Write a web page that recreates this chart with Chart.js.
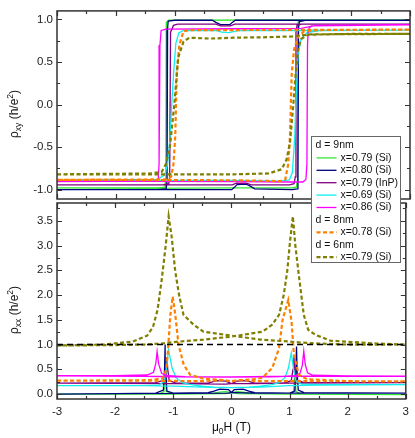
<!DOCTYPE html>
<html>
<head>
<meta charset="utf-8">
<script src="https://cdn.jsdelivr.net/npm/chart.js@4.4.0/dist/chart.umd.min.js"></script>
<style>
  html, body { margin: 0; padding: 0; background: #fff; }
  #wrap { position: relative; width: 415px; height: 438px; }
  #wrap canvas { position: absolute; left: 0; top: 0; }
</style>
</head>
<body>
<div id="wrap">
  <canvas id="chartXY" width="415" height="438"></canvas>
  <canvas id="chartXX" width="415" height="438"></canvas>
</div>
<script>
// samples (legend order)
let groupNames = ['d = 9nm', 'd = 8nm', 'd = 6nm'];
let sampleLabels = ['x=0.79 (Si)', 'x=0.80 (Si)', 'x=0.79 (InP)', 'x=0.69 (Si)', 'x=0.86 (Si)', 'x=0.78 (Si)', 'x=0.79 (Si)'];
let sampleGroup = [0, 0, 0, 0, 0, 1, 2];
let sampleColors = ['#33e633', '#000080', '#800080', '#11eeee', '#ff00ff', '#ff8000', '#808000'];
let sampleDashed = [false, false, false, false, false, true, true];

// rho_xy sweeps, points are [mu0H (T), rho_xy (h/e^2)]
let xyGreenUp = [[-3,-0.98],[-1.5,-0.985],[0,-0.98],[1.0,-0.98],[1.07,-0.97],[1.082,-0.9],[1.09,0.9],[1.1,0.975],[1.18,0.995],[3,0.995]];
let xyGreenDown = [[3,0.995],[0.5,0.995],[-0.5,0.99],[-1.1,0.99],[-1.135,0.97],[-1.143,0.9],[-1.15,-0.9],[-1.16,-0.97],[-1.25,-0.98],[-3,-0.98]];
let xyNavyUp = [[-3,-1.0],[-0.03,-1.0],[0.02,-0.97],[0.06,-0.94],[0.22,-0.935],[0.3,-0.965],[0.36,-0.99],[1.0,-1.0],[1.085,-0.99],[1.095,-0.9],[1.105,0.9],[1.12,0.975],[1.22,0.99],[3,0.99]];
let xyNavyDown = [[3,0.99],[0.03,0.99],[-0.02,0.965],[-0.06,0.94],[-0.22,0.938],[-0.3,0.965],[-0.36,0.99],[-1.0,0.99],[-1.11,0.98],[-1.12,0.9],[-1.13,-0.9],[-1.145,-0.99],[-1.3,-1.0],[-3,-1.0]];
let xyPurpleUp = [[-3,-0.945],[-0.02,-0.945],[0.05,-0.925],[0.22,-0.925],[0.3,-0.945],[0.95,-0.945],[1.03,-0.93],[1.05,-0.85],[1.062,0.85],[1.08,0.93],[1.15,0.945],[3,0.945]];
let xyPurpleDown = [[3,0.945],[0.02,0.945],[-0.05,0.925],[-0.22,0.925],[-0.3,0.945],[-0.95,0.945],[-1.02,0.93],[-1.07,0.85],[-1.085,-0.85],[-1.1,-0.93],[-1.2,-0.945],[-3,-0.945]];
let xyCyanUp = [[-3,-0.89],[0,-0.89],[0.8,-0.9],[0.95,-0.885],[1.0,-0.8],[1.04,-0.4],[1.07,0.2],[1.1,0.6],[1.15,0.77],[1.25,0.845],[1.5,0.87],[3,0.875]];
let xyCyanDown = [[3,0.875],[0.1,0.87],[-0.08,0.845],[-0.2,0.85],[-0.3,0.87],[-0.85,0.87],[-0.93,0.84],[-0.98,0.72],[-1.02,0.35],[-1.05,0.0],[-1.08,-0.4],[-1.12,-0.7],[-1.17,-0.83],[-1.3,-0.88],[-3,-0.89]];
let xyMagentaUp = [[-3,-0.9],[0,-0.905],[1.0,-0.91],[1.18,-0.91],[1.23,-0.88],[1.248,-0.7],[1.258,0.7],[1.27,0.88],[1.32,0.925],[3,0.935]];
let xyMagentaDown = [[3,0.935],[1.4,0.93],[1.15,0.895],[0,0.89],[-1.15,0.885],[-1.23,0.87],[-1.25,0.7],[-1.265,-0.7],[-1.28,-0.88],[-1.35,-0.9],[-3,-0.905]];
let xyOrangeUp = [[-3,-0.885],[0,-0.89],[0.8,-0.9],[0.88,-0.88],[0.93,-0.7],[0.96,-0.37],[0.99,0.37],[1.03,0.65],[1.1,0.8],[1.2,0.86],[1.4,0.875],[3,0.88]];
let xyOrangeDown = [[3,0.88],[0,0.875],[-0.75,0.875],[-0.85,0.86],[-0.92,0.7],[-0.965,0.37],[-0.99,-0.37],[-1.02,-0.7],[-1.06,-0.85],[-1.15,-0.88],[-3,-0.885]];
let xyOliveUp = [[-3,-0.82],[-1,-0.82],[0,-0.82],[0.6,-0.81],[0.82,-0.76],[0.9,-0.65],[0.96,-0.45],[1.017,0.0],[1.057,0.37],[1.1,0.65],[1.15,0.77],[1.27,0.82],[2,0.83],[3,0.83]];
let xyOliveDown = [[3,0.83],[1.3,0.825],[1.0,0.8],[0.5,0.79],[0,0.785],[-0.4,0.775],[-0.75,0.785],[-0.85,0.74],[-0.94,0.55],[-1.006,0.0],[-1.08,-0.49],[-1.15,-0.7],[-1.22,-0.79],[-1.4,-0.81],[-3,-0.82]];

// rho_xx sweeps, points are [mu0H (T), rho_xx (h/e^2)]
let xxGreenUp = [[-3,0.0],[-1,0.0],[-0.1,0.01],[0.0,0.03],[0.1,0.05],[0.2,0.04],[0.35,0.01],[1.0,0.0],[1.07,0.05],[1.09,0.45],[1.11,0.05],[1.2,0.0],[3,-0.01]];
let xxGreenDown = [[3,-0.01],[1,0.0],[0.1,0.01],[0,0.03],[-0.1,0.05],[-0.2,0.04],[-0.35,0.01],[-1.0,0.0],[-1.12,0.05],[-1.14,0.45],[-1.16,0.05],[-1.25,0.0],[-3,0.0]];
let xxNavyUp = [[-3,0.0],[-2,0.01],[-1,0.015],[-0.05,0.02],[0.0,0.03],[0.05,0.09],[0.2,0.1],[0.3,0.06],[0.4,0.03],[1.0,0.02],[1.09,0.06],[1.11,0.5],[1.12,0.96],[1.13,0.45],[1.15,0.08],[1.25,0.03],[2,0.025],[3,0.02]];
let xxNavyDown = [[3,0.02],[2,0.02],[1,0.02],[0.4,0.02],[0.05,0.03],[0.0,0.03],[-0.05,0.09],[-0.2,0.1],[-0.3,0.06],[-0.4,0.03],[-1.0,0.02],[-1.11,0.06],[-1.13,0.5],[-1.14,1.0],[-1.15,0.5],[-1.17,0.08],[-1.3,0.02],[-2,0.01],[-3,0.0]];
let xxPurpleUp = [[-3,0.22],[-1,0.21],[-0.1,0.2],[0.0,0.21],[0.1,0.26],[0.25,0.27],[0.4,0.22],[0.9,0.22],[1.03,0.27],[1.06,0.5],[1.075,0.76],[1.09,0.5],[1.12,0.28],[1.25,0.23],[3,0.23]];
let xxPurpleDown = [[3,0.23],[1,0.22],[0.4,0.21],[0.0,0.21],[-0.1,0.26],[-0.25,0.27],[-0.4,0.22],[-0.95,0.22],[-1.07,0.27],[-1.095,0.5],[-1.11,0.75],[-1.125,0.5],[-1.16,0.28],[-1.3,0.23],[-3,0.22]];
let xxCyanUp = [[-3,0.17],[-1.5,0.17],[-1.0,0.16],[-0.5,0.14],[0,0.13],[0.3,0.14],[0.5,0.16],[0.7,0.19],[0.82,0.23],[0.92,0.33],[0.98,0.52],[1.03,0.83],[1.07,0.5],[1.11,0.26],[1.2,0.2],[1.5,0.19],[3,0.19]];
let xxCyanDown = [[3,0.19],[1.5,0.18],[1.0,0.17],[0.5,0.14],[0,0.13],[-0.3,0.14],[-0.5,0.16],[-0.7,0.19],[-0.85,0.23],[-0.95,0.33],[-1.02,0.52],[-1.08,0.89],[-1.12,0.5],[-1.16,0.25],[-1.25,0.18],[-1.5,0.17],[-3,0.17]];
let xxMagentaUp = [[-3,0.37],[-1.5,0.36],[-1.0,0.35],[0,0.34],[0.8,0.35],[1.1,0.37],[1.18,0.42],[1.22,0.58],[1.245,0.87],[1.27,0.6],[1.31,0.43],[1.4,0.38],[2,0.365],[3,0.36]];
let xxMagentaDown = [[3,0.36],[2,0.365],[1.0,0.36],[0,0.345],[-0.8,0.35],[-1.1,0.37],[-1.2,0.42],[-1.25,0.6],[-1.278,0.86],[-1.3,0.62],[-1.34,0.44],[-1.45,0.385],[-2,0.37],[-3,0.37]];
let xxOrangeUp = [[-3,0.27],[-1.5,0.27],[-0.5,0.26],[-0.15,0.28],[0,0.26],[0.15,0.28],[0.4,0.3],[0.535,0.33],[0.705,0.53],[0.82,0.93],[0.88,1.5],[0.978,1.9],[1.034,1.47],[1.075,0.8],[1.16,0.39],[1.3,0.3],[2,0.26],[3,0.255]];
let xxOrangeDown = [[3,0.255],[1.5,0.26],[0.5,0.26],[0.15,0.28],[0,0.26],[-0.15,0.28],[-0.48,0.31],[-0.71,0.39],[-0.82,0.59],[-0.91,1.0],[-0.965,1.6],[-1.01,1.97],[-1.05,1.6],[-1.09,0.9],[-1.12,0.5],[-1.18,0.32],[-1.4,0.28],[-3,0.27]];
let xxOliveUp = [[-3,0.98],[-2,0.99],[-1.5,1.0],[-1.2,1.02],[-1.0,1.05],[-0.48,1.1],[0,1.16],[0.535,1.26],[0.7,1.4],[0.82,1.6],[0.9,2.0],[0.96,2.48],[1.01,3.1],[1.057,3.59],[1.1,3.0],[1.16,2.4],[1.245,1.6],[1.32,1.3],[1.44,1.2],[1.7,1.08],[1.95,1.06],[2.5,1.02],[3,1.0]];
let xxOliveDown = [[3,1.0],[2,1.0],[1.5,1.02],[1.2,1.04],[1.0,1.06],[0.5,1.1],[0,1.18],[-0.48,1.26],[-0.65,1.4],[-0.824,1.6],[-0.9,2.0],[-0.966,2.48],[-1.03,3.2],[-1.08,3.59],[-1.13,3.0],[-1.2,2.3],[-1.27,1.7],[-1.35,1.35],[-1.45,1.18],[-1.7,1.06],[-2.2,1.0],[-3,0.98]];

// quantum resistance reference line
let refLine = [[-3, 1.0], [3, 1.0]];

const FONT = '"Liberation Sans", Arial, sans-serif';

function loop(up, down) {
  return up.concat(down);
}

function curve(data, i) {
  return {
    label: sampleLabels[i],
    data: data,
    borderColor: sampleColors[i],
    borderWidth: sampleDashed[i] ? 2.2 : 1.3,
    borderDash: sampleDashed[i] ? [4, 2.5] : [],
    pointRadius: 0,
    fill: false,
    tension: 0
  };
}

// inward ticks on all four sides plus the frame
const framePlugin = {
  id: 'frame',
  afterDatasetsDraw(chart, args, opts) {
    const ctx = chart.ctx;
    const a = chart.chartArea;
    const x = chart.scales.x, y = chart.scales.y;
    ctx.save();
    ctx.strokeStyle = '#333';
    ctx.lineWidth = 1.2;
    ctx.beginPath();
    for (let k = Math.ceil(x.min / 0.5); k * 0.5 <= x.max + 1e-9; k++) {
      const px = Math.round(x.getPixelForValue(k * 0.5)) + 0.5;
      const len = k % 2 === 0 ? 5 : 3;
      ctx.moveTo(px, a.bottom); ctx.lineTo(px, a.bottom - len);
      ctx.moveTo(px, a.top); ctx.lineTo(px, a.top + len);
    }
    for (let k = Math.ceil(y.min / opts.minor - 1e-9); k * opts.minor <= y.max + 1e-9; k++) {
      const py = Math.round(y.getPixelForValue(k * opts.minor)) + 0.5;
      const len = k % 2 === 0 ? 5 : 3;
      ctx.moveTo(a.left, py); ctx.lineTo(a.left + len, py);
      ctx.moveTo(a.right, py); ctx.lineTo(a.right - len, py);
    }
    ctx.stroke();
    ctx.lineWidth = 1.5;
    ctx.strokeRect(a.left, a.top, a.right - a.left, a.bottom - a.top);
    ctx.restore();
  }
};

function richText(ctx, parts, cx, cy, angle) {
  ctx.save();
  ctx.translate(cx, cy);
  ctx.rotate(angle);
  ctx.fillStyle = '#111';
  ctx.textBaseline = 'alphabetic';
  let total = 0;
  parts.forEach(p => {
    ctx.font = p[1] + 'px ' + FONT;
    p.w = ctx.measureText(p[0]).width;
    total += p.w;
  });
  let px = -total / 2;
  parts.forEach(p => {
    ctx.font = p[1] + 'px ' + FONT;
    ctx.fillText(p[0], px, 4 + p[2]);
    px += p.w;
  });
  ctx.restore();
}

const titlePlugin = {
  id: 'titles',
  afterDraw(chart, args, opts) {
    const ctx = chart.ctx;
    const a = chart.chartArea;
    richText(ctx, [['\u03C1', 12, 0], [opts.sub, 8.5, 3], [' (h/e', 12, 0], ['2', 8.5, -5], [')', 12, 0]],
      14, (a.top + a.bottom) / 2 + 9, -Math.PI / 2);
    if (opts.xTitle) {
      richText(ctx, [['\u03BC', 12, 0], ['0', 8.5, 3], ['H (T)', 12, 0]], (a.left + a.right) / 2, 427, 0);
    }
  }
};

const legendPlugin = {
  id: 'boxLegend',
  afterDraw(chart) {
    const ctx = chart.ctx;
    const left = 311.5, top = 136.5, w = 89, h = 126, rowH = 12.4;
    ctx.save();
    ctx.fillStyle = '#fff';
    ctx.fillRect(left, top, w, h);
    ctx.strokeStyle = '#666';
    ctx.lineWidth = 1;
    ctx.strokeRect(left, top, w, h);
    ctx.font = '10.5px ' + FONT;
    ctx.textBaseline = 'middle';
    ctx.fillStyle = '#111';
    let row = 0, lastGroup = -1;
    sampleLabels.forEach((lab, i) => {
      if (sampleGroup[i] !== lastGroup) {
        lastGroup = sampleGroup[i];
        ctx.fillStyle = '#111';
        ctx.fillText(groupNames[lastGroup], left + 4, top + 9 + row * rowH);
        row++;
      }
      const ly = top + 9 + row * rowH;
      ctx.beginPath();
      ctx.strokeStyle = sampleColors[i];
      ctx.lineWidth = sampleDashed[i] ? 2.2 : 1.3;
      ctx.setLineDash(sampleDashed[i] ? [4, 2.5] : []);
      ctx.moveTo(left + 5, ly);
      ctx.lineTo(left + 25, ly);
      ctx.stroke();
      ctx.setLineDash([]);
      ctx.fillStyle = '#111';
      ctx.fillText(lab, left + 29, ly);
      row++;
    });
    ctx.restore();
  }
};

function yScale(min, max, width) {
  return {
    type: 'linear', min: min, max: max,
    grid: { display: false, drawTicks: false },
    border: { display: false },
    ticks: {
      stepSize: 0.5, includeBounds: false, padding: 4,
      color: '#222', font: { family: FONT, size: 11.5 },
      callback: v => v.toFixed(1)
    },
    afterFit: s => { s.width = width; }
  };
}

function xScale(showLabels, height) {
  return {
    type: 'linear', min: -3, max: 3,
    grid: { display: false, drawTicks: false },
    border: { display: false },
    ticks: {
      display: showLabels, stepSize: 1, autoSkip: false, maxRotation: 0, padding: 6,
      color: '#222', font: { family: FONT, size: 11.5 },
      callback: v => String(v)
    },
    afterFit: s => { s.height = height; }
  };
}

let chartXY = new Chart(document.getElementById('chartXY').getContext('2d'), {
  type: 'line',
  data: {
    datasets: [
      curve(loop(xyOliveUp, xyOliveDown), 6),
      curve(loop(xyOrangeUp, xyOrangeDown), 5),
      curve(loop(xyMagentaUp, xyMagentaDown), 4),
      curve(loop(xyCyanUp, xyCyanDown), 3),
      curve(loop(xyPurpleUp, xyPurpleDown), 2),
      curve(loop(xyNavyUp, xyNavyDown), 1),
      curve(loop(xyGreenUp, xyGreenDown), 0)
    ]
  },
  options: {
    responsive: false,
    animation: false,
    layout: { padding: { left: 0, top: 1, right: 5, bottom: 239 } },
    scales: { x: xScale(false, 0), y: yScale(-1.11, 1.1, 57) },
    plugins: {
      legend: { display: false },
      tooltip: { enabled: false },
      frame: { minor: 0.25 },
      titles: { sub: 'xy', xTitle: false }
    }
  },
  plugins: [framePlugin, titlePlugin]
});

let chartXX = new Chart(document.getElementById('chartXX').getContext('2d'), {
  type: 'line',
  data: {
    datasets: [
      {
        label: 'h/e2',
        data: refLine,
        borderColor: '#000',
        borderWidth: 1.5,
        borderDash: [6, 4],
        pointRadius: 0,
        fill: false
      },
      curve(loop(xxOliveUp, xxOliveDown), 6),
      curve(loop(xxOrangeUp, xxOrangeDown), 5),
      curve(loop(xxMagentaUp, xxMagentaDown), 4),
      curve(loop(xxCyanUp, xxCyanDown), 3),
      curve(loop(xxPurpleUp, xxPurpleDown), 2),
      curve(loop(xxNavyUp, xxNavyDown), 1),
      curve(loop(xxGreenUp, xxGreenDown), 0)
    ]
  },
  options: {
    responsive: false,
    animation: false,
    layout: { padding: { left: 0, top: 203, right: 5, bottom: 0 } },
    scales: { x: xScale(true, 39), y: yScale(-0.1, 3.86, 57) },
    plugins: {
      legend: { display: false },
      tooltip: { enabled: false },
      frame: { minor: 0.25 },
      titles: { sub: 'xx', xTitle: true }
    }
  },
  plugins: [framePlugin, titlePlugin, legendPlugin]
});
</script>
</body>
</html>
